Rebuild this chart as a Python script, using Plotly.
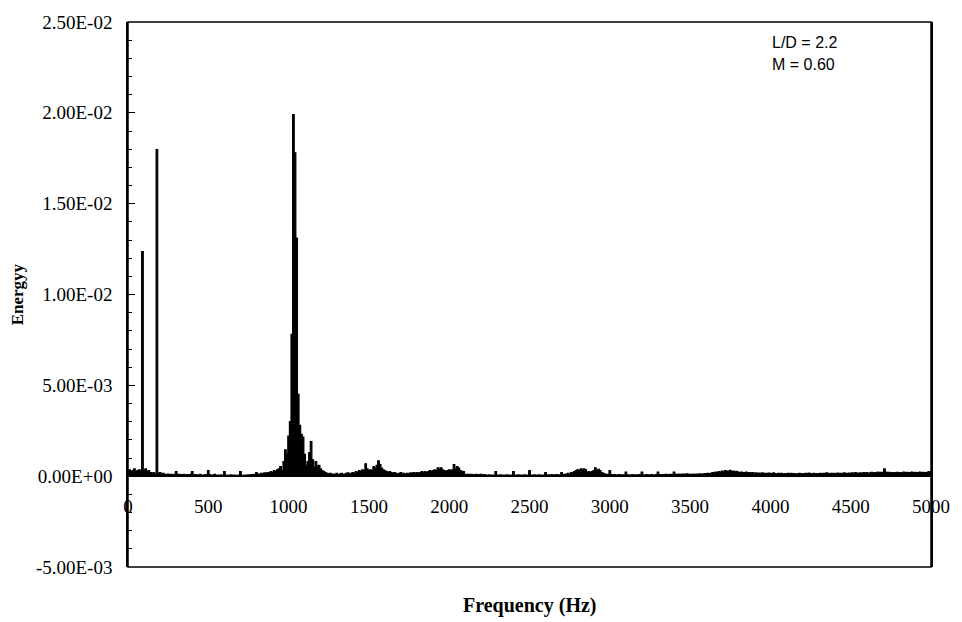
import numpy as np
import plotly.graph_objects as go

# Frequency grid (Hz), 10 Hz spacing
freq_start, freq_stop, freq_step = 0, 5000, 10

# Energy values in units of 1e-3, in 1000 Hz blocks
energy_0000_0990 = [
    0.30, 0.35, 0.25, 0.30, 0.40, 0.25, 0.30, 0.35, 0.30, 12.36,
    0.30, 0.40, 0.25, 0.30, 0.20, 0.15, 0.20, 0.10, 17.98, 0.15,
    0.20, 0.10, 0.15, 0.08, 0.10, 0.12, 0.08, 0.10, 0.06, 0.10,
    0.25, 0.08, 0.10, 0.06, 0.08, 0.10, 0.05, 0.08, 0.06, 0.10,
    0.25, 0.06, 0.08, 0.05, 0.07, 0.10, 0.06, 0.05, 0.08, 0.06,
    0.30, 0.08, 0.05, 0.06, 0.10, 0.05, 0.06, 0.04, 0.07, 0.05,
    0.25, 0.06, 0.04, 0.05, 0.07, 0.04, 0.06, 0.05, 0.04, 0.06,
    0.25, 0.05, 0.04, 0.06, 0.05, 0.07, 0.06, 0.08, 0.07, 0.10,
    0.20, 0.10, 0.12, 0.15, 0.12, 0.18, 0.15, 0.20, 0.18, 0.25,
    0.20, 0.30, 0.25, 0.35, 0.40, 0.52, 0.30, 0.80, 1.45, 1.20,
]
energy_1000_1990 = [
    2.20, 3.00, 7.80, 19.90, 17.80, 13.10, 4.50, 2.80, 2.30, 2.15,
    1.20, 0.60, 0.80, 1.30, 1.90, 0.90, 0.50, 0.80, 0.55, 0.60,
    0.40, 0.30, 0.25, 0.20, 0.15, 0.12, 0.15, 0.10, 0.12, 0.10,
    0.15, 0.10, 0.12, 0.15, 0.10, 0.12, 0.15, 0.18, 0.12, 0.15,
    0.20, 0.15, 0.25, 0.20, 0.30, 0.25, 0.35, 0.30, 0.68, 0.40,
    0.30, 0.35, 0.30, 0.52, 0.45, 0.60, 0.85, 0.63, 0.45, 0.35,
    0.30, 0.25, 0.20, 0.25, 0.20, 0.15, 0.20, 0.15, 0.12, 0.15,
    0.20, 0.12, 0.15, 0.10, 0.15, 0.12, 0.18, 0.15, 0.20, 0.15,
    0.20, 0.15, 0.20, 0.25, 0.20, 0.25, 0.20, 0.25, 0.30, 0.25,
    0.30, 0.35, 0.30, 0.46, 0.40, 0.46, 0.35, 0.30, 0.25, 0.30,
]
energy_2000_2990 = [
    0.35, 0.30, 0.35, 0.63, 0.40, 0.52, 0.45, 0.30, 0.26, 0.25,
    0.10, 0.08, 0.10, 0.08, 0.10, 0.06, 0.08, 0.10, 0.06, 0.08,
    0.10, 0.05, 0.08, 0.06, 0.05, 0.07, 0.05, 0.06, 0.05, 0.25,
    0.06, 0.05, 0.07, 0.05, 0.06, 0.05, 0.07, 0.05, 0.06, 0.05,
    0.25, 0.06, 0.05, 0.07, 0.05, 0.06, 0.05, 0.07, 0.06, 0.05,
    0.30, 0.06, 0.05, 0.07, 0.06, 0.05, 0.07, 0.06, 0.05, 0.06,
    0.20, 0.06, 0.07, 0.05, 0.08, 0.06, 0.07, 0.08, 0.06, 0.07,
    0.20, 0.08, 0.10, 0.12, 0.15, 0.12, 0.20, 0.18, 0.25, 0.30,
    0.35, 0.30, 0.40, 0.35, 0.40, 0.35, 0.20, 0.25, 0.20, 0.25,
    0.30, 0.46, 0.30, 0.38, 0.30, 0.20, 0.15, 0.12, 0.10, 0.10,
]
energy_3000_3990 = [
    0.30, 0.08, 0.06, 0.08, 0.07, 0.06, 0.08, 0.06, 0.07, 0.06,
    0.22, 0.06, 0.07, 0.05, 0.08, 0.06, 0.07, 0.06, 0.08, 0.07,
    0.22, 0.07, 0.06, 0.08, 0.07, 0.06, 0.08, 0.07, 0.06, 0.08,
    0.22, 0.08, 0.07, 0.09, 0.08, 0.10, 0.08, 0.09, 0.10, 0.08,
    0.22, 0.10, 0.09, 0.12, 0.10, 0.11, 0.12, 0.10, 0.13, 0.12,
    0.10, 0.09, 0.11, 0.08, 0.12, 0.10, 0.13, 0.11, 0.12, 0.14,
    0.13, 0.15, 0.14, 0.16, 0.20, 0.17, 0.22, 0.20, 0.25, 0.22,
    0.28, 0.24, 0.30, 0.26, 0.28, 0.32, 0.25, 0.28, 0.24, 0.26,
    0.22, 0.20, 0.22, 0.18, 0.20, 0.22, 0.18, 0.20, 0.17, 0.19,
    0.16, 0.18, 0.15, 0.17, 0.16, 0.18, 0.15, 0.16, 0.14, 0.17,
]
energy_4000_5000 = [
    0.15, 0.12, 0.18, 0.14, 0.12, 0.16, 0.13, 0.15, 0.12, 0.14,
    0.12, 0.15, 0.13, 0.16, 0.12, 0.14, 0.11, 0.13, 0.15, 0.12,
    0.14, 0.12, 0.15, 0.13, 0.17, 0.14, 0.12, 0.15, 0.13, 0.14,
    0.12, 0.15, 0.13, 0.16, 0.14, 0.18, 0.15, 0.13, 0.16, 0.14,
    0.15, 0.13, 0.17, 0.14, 0.16, 0.15, 0.18, 0.16, 0.14, 0.17,
    0.15, 0.18, 0.16, 0.19, 0.17, 0.15, 0.18, 0.16, 0.20, 0.17,
    0.19, 0.16, 0.18, 0.21, 0.17, 0.20, 0.18, 0.22, 0.19, 0.21,
    0.20, 0.40, 0.22, 0.19, 0.21, 0.18, 0.20, 0.17, 0.19, 0.21,
    0.18, 0.20, 0.17, 0.22, 0.19, 0.21, 0.18, 0.20, 0.23, 0.19,
    0.21, 0.18, 0.20, 0.22, 0.19, 0.21, 0.18, 0.20, 0.22, 0.25,
    0.20,
]

y_tick_vals = [-0.005, 0.0, 0.005, 0.010, 0.015, 0.020, 0.025]
y_tick_text = ["-5.00E-03", "0.00E+00", "5.00E-03", "1.00E-02",
               "1.50E-02", "2.00E-02", "2.50E-02"]
x_tick_vals = [0, 500, 1000, 1500, 2000, 2500, 3000, 3500, 4000, 4500, 5000]
x_tick_text = [str(v) for v in x_tick_vals]

energy = np.array(energy_0000_0990 + energy_1000_1990 + energy_2000_2990
                  + energy_3000_3990 + energy_4000_5000) * 1e-3
freq = np.arange(freq_start, freq_stop + freq_step, freq_step)

SERIF = "Times New Roman, Liberation Serif, serif"
SANS = "Arial, Liberation Sans, sans-serif"

fig = go.Figure()
fig.add_trace(go.Scatter(
    x=freq, y=energy, mode="lines", line=dict(color="black", width=1.2, shape="hvh"),
    fill="tozeroy", fillcolor="black", showlegend=False, hoverinfo="x+y",
))

fig.update_layout(
    width=962, height=622,
    margin=dict(l=128, r=25, t=17, b=55),
    paper_bgcolor="white", plot_bgcolor="white",
    font=dict(family=SERIF, size=19, color="black"),
    xaxis=dict(
        range=[0, 5000], anchor="free", position=1/6,
        tickvals=x_tick_vals, ticktext=x_tick_text,
        ticks="", showline=False, showgrid=False, zeroline=False,
        ticklabelstandoff=17, tickfont=dict(family=SERIF, size=19),
    ),
    yaxis=dict(
        range=[-0.005, 0.025], tickvals=y_tick_vals, ticktext=y_tick_text,
        ticks="inside", ticklen=7, tickwidth=1, tickcolor="black",
        minor=dict(ticks="inside", ticklen=4, dtick=0.001, tickcolor="black", tickwidth=1),
        showgrid=False, zeroline=True, zerolinecolor="black", zerolinewidth=1.5,
        showline=True, mirror=True, linecolor="black", linewidth=1.5,
        ticklabelstandoff=10, tickfont=dict(family=SERIF, size=19),
    ),
    shapes=[dict(type="rect", xref="paper", yref="paper", x0=0, x1=1, y0=0, y1=1,
                 line=dict(color="black", width=1.5), fillcolor="rgba(0,0,0,0)")],
    annotations=[
        dict(text="<b>Frequency (Hz)</b>", xref="paper", yref="paper", x=0.5, y=-0.07,
             xanchor="center", yanchor="middle", showarrow=False,
             font=dict(family=SERIF, size=20)),
        dict(text="<b>Energyy</b>", xref="paper", yref="paper", x=(17 - 128) / 809, y=0.5,
             xanchor="center", yanchor="middle", textangle=-90, showarrow=False,
             font=dict(family=SERIF, size=17)),
        dict(text="L/D = 2.2", xref="paper", yref="paper", x=(775 - 128) / 809,
             y=(567 - 38) / 550, xanchor="left", yanchor="middle", showarrow=False,
             font=dict(family=SANS, size=16)),
        dict(text="M = 0.60", xref="paper", yref="paper", x=(775 - 128) / 809,
             y=(567 - 60) / 550, xanchor="left", yanchor="middle", showarrow=False,
             font=dict(family=SANS, size=16)),
    ],
)

fig.write_html("out.html")
